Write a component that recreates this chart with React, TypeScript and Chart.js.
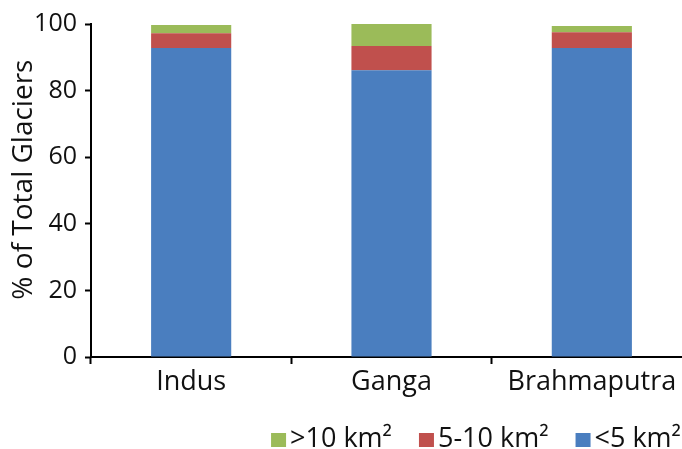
import React, { useEffect, useRef } from "react";
import { Chart, registerables } from "chart.js";

Chart.register(...registerables);

const categories = ["Indus", "Ganga", "Brahmaputra"];
const seriesLabels = ["<5 km²", "5-10 km²", ">10 km²"];
const smallGlaciers = [92.8, 86.1, 92.8];
const mediumGlaciers = [4.4, 7.3, 4.7];
const largeGlaciers = [2.5, 6.6, 1.9];
const yTicks = [0, 20, 40, 60, 80, 100];
const seriesColors = ["#4A7EBF", "#C0504D", "#9BBB59"];
const yTitle = "   % of Total Glaciers";

const FONT = "'Open Sans', 'DejaVu Sans', sans-serif";
const TEXT = "#111111";

const legendPlugin = {
  id: "customLegend",
  afterDraw(chart: any) {
    const ctx = chart.ctx;
    const ds = chart.data.datasets.slice().reverse();
    ctx.save();
    ctx.font = `27px ${FONT}`;
    const boxW = 15;
    const boxH = 14;
    const gap = 4;
    const itemGap = 27;
    const right = 681;
    const baseline = 447;
    const widths = ds.map((d: any) => ctx.measureText(d.label).width);
    const total =
      widths.reduce((a: number, b: number) => a + b, 0) +
      ds.length * (boxW + gap) +
      (ds.length - 1) * itemGap;
    let x = right - total;
    ds.forEach((d: any, i: number) => {
      ctx.fillStyle = d.backgroundColor;
      ctx.fillRect(x, baseline - boxH, boxW, boxH);
      x += boxW + gap;
      ctx.fillStyle = TEXT;
      ctx.textBaseline = "alphabetic";
      ctx.textAlign = "left";
      ctx.fillText(d.label, x, baseline);
      x += widths[i] + itemGap;
    });
    ctx.restore();
  },
};

export default function App() {
  const ref = useRef<HTMLCanvasElement | null>(null);

  useEffect(() => {
    if (!ref.current) return;
    const values = [smallGlaciers, mediumGlaciers, largeGlaciers];
    const chart = new Chart(ref.current, {
      type: "bar",
      data: {
        labels: categories,
        datasets: values.map((v, i) => ({
          label: seriesLabels[i],
          data: v,
          backgroundColor: seriesColors[i],
          borderWidth: 0,
          barPercentage: 0.4,
          categoryPercentage: 1.0,
        })),
      },
      options: {
        responsive: false,
        animation: false,
        layout: { padding: { top: 24, right: 8, bottom: 0, left: 0 } },
        plugins: {
          legend: { display: false },
          tooltip: { enabled: false },
        },
        scales: {
          x: {
            stacked: true,
            grid: {
              offset: true,
              drawOnChartArea: false,
              drawTicks: true,
              tickLength: 7,
              tickColor: "#000",
              tickWidth: 2,
            },
            border: { color: "#000", width: 2 },
            ticks: {
              color: TEXT,
              font: { family: FONT, size: 27 },
              padding: 2,
            },
            afterFit: (s: any) => {
              s.height = 92;
            },
          },
          y: {
            stacked: true,
            min: 0,
            max: 100,
            afterBuildTicks: (s: any) => {
              s.ticks = yTicks.map((v) => ({ value: v }));
            },
            grid: {
              drawOnChartArea: false,
              drawTicks: true,
              tickLength: 6,
              tickColor: "#000",
              tickWidth: 2,
            },
            border: { color: "#000", width: 2 },
            ticks: {
              color: TEXT,
              font: { family: FONT, size: 25 },
              padding: 8,
            },
            title: {
              display: true,
              text: yTitle,
              color: TEXT,
              font: { family: FONT, size: 28 },
              padding: { top: 7, bottom: 0 },
            },
            afterFit: (s: any) => {
              s.width = 91;
            },
          },
        },
      },
      plugins: [legendPlugin],
    });
    return () => chart.destroy();
  }, []);

  return (
    <div
      style={{
        position: "fixed",
        left: 0,
        top: 0,
        width: 682,
        height: 449,
        overflow: "hidden",
        background: "#fff",
      }}
    >
      <canvas ref={ref} width={700} height={449} style={{ display: "block" }} />
    </div>
  );
}
